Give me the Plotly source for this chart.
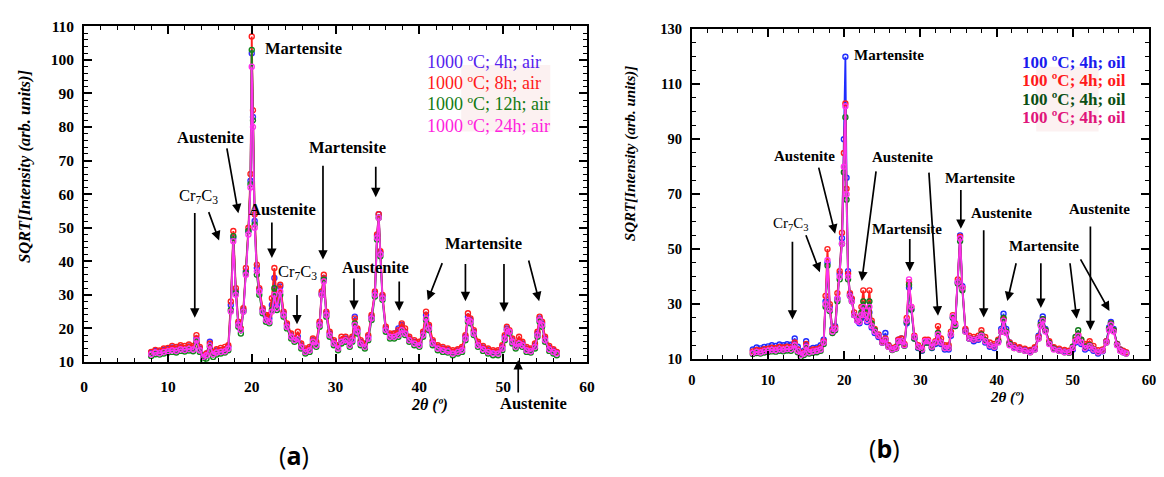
import plotly.graph_objects as go

W, H = 1164, 477

# ---------------- Panel (a): 1000 ºC, air ----------------
xa = [8.0, 8.5, 9.0, 9.5, 10.0, 10.5, 11.0, 11.5, 12.0, 12.5,
      13.0, 13.4, 13.8, 14.2, 14.6, 15.0, 15.4, 15.8, 16.3, 16.8,
      17.2, 17.5, 17.8, 18.1, 18.4, 18.7, 19.0, 19.3, 19.6, 19.85,
      20.0, 20.15, 20.35, 20.6, 20.9, 21.3, 21.7, 22.1, 22.4, 22.7,
      23.0, 23.4, 23.8, 24.2, 24.7, 25.1, 25.5, 25.9, 26.4, 26.9,
      27.3, 27.7, 28.1, 28.35, 28.6, 28.9, 29.3, 29.8, 30.3, 30.7,
      31.2, 31.7, 32.0, 32.3, 32.6, 33.0, 33.5, 33.9, 34.3, 34.7,
      34.95, 35.15, 35.35, 35.6, 36.0, 36.5, 37.0, 37.5, 37.9, 38.3,
      38.8, 39.4, 40.0, 40.45, 40.8, 41.15, 41.6, 42.2, 42.8, 43.4,
      44.0, 44.6, 45.1, 45.5, 45.8, 46.1, 46.5, 47.0, 47.6, 48.2,
      48.8, 49.4, 49.9, 50.2, 50.45, 50.75, 51.1, 51.5, 51.9, 52.3,
      52.8, 53.3, 53.8, 54.1, 54.35, 54.65, 55.0, 55.5, 56.0, 56.4]

a_4h = [12.8, 13.3, 13.1, 13.6, 13.9, 14.3, 14.0, 14.4, 14.2, 14.6,
        14.2, 17.0, 14.0, 11.5, 12.5, 16.0, 12.8, 13.4, 13.6, 13.8,
        14.5, 27.0, 47.0, 31.0, 21.5, 19.5, 25.5, 37.0, 49.0, 64.0,
        102.0, 83.0, 52.0, 38.0, 31.5, 25.5, 23.5, 23.0, 27.0, 35.0,
        27.0, 32.5, 24.5, 21.0, 18.0, 16.8, 17.5, 15.0, 13.5, 14.0,
        16.5, 15.5, 21.5, 30.5, 35.0, 24.5, 18.5, 16.0, 14.5, 16.5,
        17.0, 15.5, 17.0, 23.5, 19.5, 16.0, 15.0, 17.5, 23.5, 30.5,
        47.5, 54.0, 42.5, 29.5, 20.0, 18.0, 18.5, 20.0, 21.0, 19.0,
        17.0, 16.0, 15.5, 18.5, 24.0, 20.5, 16.0, 14.5, 14.0, 13.6,
        13.0, 13.4, 14.0, 17.5, 23.5, 22.5, 19.0, 15.5, 14.3, 13.5,
        13.0, 13.0, 14.5, 17.5, 20.0, 19.0, 16.5, 15.0, 16.0, 15.5,
        14.0, 13.6, 15.0, 18.5, 23.0, 21.5, 17.0, 14.3, 13.4, 12.8]

a_8h = [13.0, 13.6, 13.4, 14.0, 14.2, 14.8, 14.5, 15.0, 14.8, 15.2,
        14.8, 18.0, 14.5, 12.0, 12.5, 15.5, 13.0, 13.8, 14.2, 14.5,
        15.0, 28.0, 49.0, 32.0, 22.0, 20.0, 26.0, 38.0, 50.0, 66.0,
        107.0, 85.0, 54.0, 39.0, 32.0, 26.0, 24.0, 24.0, 29.0, 38.0,
        28.0, 33.0, 25.0, 21.5, 18.5, 17.0, 19.0, 15.5, 14.0, 14.5,
        17.0, 16.0, 22.0, 31.0, 36.0, 25.0, 19.0, 16.5, 15.0, 17.5,
        17.5, 16.0, 17.5, 23.0, 20.0, 16.5, 15.5, 18.0, 24.0, 31.0,
        48.0, 54.0, 43.0, 30.0, 20.5, 18.5, 18.5, 19.5, 21.5, 20.0,
        17.5, 16.5, 16.0, 19.0, 25.0, 21.0, 16.5, 15.0, 14.5, 14.0,
        13.5, 13.8, 14.5, 18.0, 24.5, 23.0, 19.5, 16.0, 14.8, 14.0,
        13.5, 13.5, 15.0, 18.0, 20.5, 19.5, 17.0, 15.5, 17.5, 16.0,
        14.5, 14.0, 15.5, 19.0, 23.5, 22.0, 17.5, 14.8, 13.8, 13.0]

a_12h = [11.8, 12.3, 12.2, 12.5, 12.8, 13.0, 12.8, 13.3, 13.1, 13.4,
         13.2, 16.0, 13.0, 10.5, 11.0, 14.5, 11.5, 12.2, 12.5, 12.8,
         13.5, 25.5, 47.5, 30.5, 20.5, 18.5, 25.0, 36.5, 49.0, 63.0,
         103.0, 82.0, 51.0, 36.0, 30.0, 24.5, 22.0, 21.5, 25.5, 32.0,
         25.5, 30.0, 23.5, 20.0, 17.0, 16.0, 16.5, 14.0, 12.5, 13.0,
         15.5, 14.5, 20.5, 30.0, 34.5, 23.5, 17.5, 15.0, 13.5, 15.5,
         16.0, 14.5, 16.0, 21.5, 18.5, 15.0, 14.0, 16.5, 22.5, 29.5,
         46.5, 53.0, 41.5, 28.5, 19.0, 17.0, 17.0, 17.5, 19.0, 18.0,
         16.0, 15.0, 14.5, 17.5, 22.5, 19.5, 15.0, 13.5, 13.0, 12.8,
         12.0, 12.5, 13.0, 16.5, 22.0, 21.5, 18.0, 14.5, 13.3, 12.5,
         12.0, 12.0, 13.5, 16.5, 19.5, 18.5, 15.5, 14.0, 15.0, 14.5,
         13.0, 12.8, 14.0, 17.5, 22.0, 20.5, 16.0, 13.3, 12.5, 12.0]

a_24h = [12.3, 12.8, 12.6, 13.0, 13.2, 13.5, 13.3, 13.8, 13.6, 13.9,
         13.7, 16.5, 13.5, 11.5, 12.0, 14.8, 12.3, 12.8, 13.0, 13.2,
         14.0, 25.0, 46.0, 30.0, 21.0, 19.5, 25.0, 36.0, 48.0, 62.0,
         98.0, 80.0, 50.0, 37.0, 31.0, 25.0, 22.5, 22.0, 25.0, 30.0,
         26.0, 31.0, 24.0, 20.5, 17.5, 16.5, 16.8, 14.5, 13.0, 13.5,
         16.0, 15.0, 21.0, 30.0, 34.0, 24.0, 18.0, 15.5, 14.0, 16.0,
         16.5, 15.0, 16.5, 21.0, 19.0, 15.5, 14.5, 17.0, 23.0, 30.0,
         47.0, 53.0, 42.0, 29.0, 19.5, 17.5, 17.5, 18.0, 19.5, 18.5,
         16.5, 15.5, 15.0, 18.0, 23.0, 20.0, 15.5, 14.0, 13.5, 13.2,
         12.5, 13.0, 13.5, 17.0, 22.5, 22.0, 18.5, 15.0, 13.8, 13.0,
         12.6, 12.5, 14.0, 17.0, 19.5, 19.0, 16.0, 14.5, 15.5, 15.0,
         13.5, 13.2, 14.5, 18.0, 22.5, 21.0, 16.5, 13.8, 13.0, 12.5]

# ---------------- Panel (b): 100 ºC, oil ----------------
xb = [8.0, 8.5, 9.0, 9.5, 10.0, 10.5, 11.0, 11.5, 12.0, 12.5,
      13.0, 13.5, 13.9, 14.3, 14.7, 15.0, 15.4, 15.9, 16.4, 16.9,
      17.3, 17.55, 17.8, 18.1, 18.45, 18.8, 19.1, 19.4, 19.7, 19.95,
      20.15, 20.3, 20.5, 20.75, 21.0, 21.3, 21.7, 22.0, 22.25, 22.5,
      22.75, 23.0, 23.3, 23.6, 24.0, 24.5, 25.0, 25.4, 25.8, 26.3,
      26.8, 27.1, 27.5, 27.9, 28.2, 28.5, 28.8, 29.2, 29.7, 30.2,
      30.6, 31.0, 31.5, 31.95, 32.3, 32.7, 33.2, 33.7, 34.0, 34.25,
      34.55, 34.9, 35.2, 35.5, 35.9, 36.4, 37.0, 37.6, 38.0, 38.5,
      39.1, 39.7, 40.2, 40.6, 40.9, 41.25, 41.7, 42.3, 43.0, 43.7,
      44.4, 45.0, 45.5, 45.8, 46.05, 46.4, 46.9, 47.5, 48.2, 48.9,
      49.5, 50.0, 50.35, 50.7, 51.1, 51.6, 52.2, 52.7, 53.3, 53.9,
      54.4, 54.75, 55.0, 55.35, 55.8, 56.2, 56.6, 57.0]

b_s1 = [13.5, 14.2, 13.9, 14.4, 14.6, 15.0, 14.8, 15.3, 15.0, 15.4,
        15.2, 17.5, 14.5, 12.0, 13.0, 16.5, 13.5, 14.0, 14.2, 15.0,
        17.0, 31.0, 45.0, 29.0, 21.0, 22.0, 32.0, 41.0, 54.0, 90.0,
        120.0, 76.0, 42.0, 33.5, 31.5, 26.0, 24.0, 23.0, 25.0, 28.0,
        25.0, 23.5, 27.0, 21.5, 19.5, 18.0, 16.0, 19.5, 15.0, 13.8,
        14.0, 17.0, 17.5, 15.0, 23.0, 36.0, 28.0, 17.5, 14.0, 13.0,
        16.0, 16.0, 14.0, 15.5, 18.5, 15.5, 13.5, 13.5, 18.5, 25.0,
        22.0, 38.0, 55.0, 36.5, 20.5, 17.5, 16.5, 17.0, 18.0, 16.0,
        14.5, 14.0, 16.5, 21.0, 26.5, 21.0, 16.0, 14.5, 14.0, 13.5,
        13.0, 14.0, 18.5, 23.5, 25.5, 21.0, 16.0, 14.0, 13.2, 12.8,
        12.5, 13.5, 16.0, 18.0, 15.5, 13.5, 14.0, 13.0, 12.0, 12.8,
        16.5, 21.5, 23.5, 21.0, 15.5, 13.5, 12.8, 12.2]

b_s2 = [12.8, 13.3, 13.1, 13.6, 13.8, 14.1, 14.0, 14.4, 14.2, 14.5,
        14.3, 16.0, 13.5, 11.8, 12.5, 15.5, 13.0, 13.5, 13.6, 14.2,
        16.5, 33.0, 50.0, 30.0, 20.5, 21.5, 34.0, 42.0, 56.0, 85.0,
        103.0, 72.0, 41.0, 34.0, 32.0, 27.0, 25.0, 25.0, 29.0, 35.0,
        28.0, 26.0, 35.0, 24.0, 21.0, 19.0, 16.5, 17.5, 15.0, 14.0,
        14.5, 17.0, 17.5, 15.5, 25.0, 38.0, 29.0, 18.5, 15.0, 14.0,
        17.0, 17.0, 15.0, 16.5, 22.0, 17.5, 15.0, 15.0, 20.0, 26.0,
        23.0, 39.0, 54.5, 36.0, 21.0, 18.5, 18.0, 18.5, 20.5, 18.0,
        16.0, 15.5, 17.0, 20.0, 24.5, 20.0, 16.0, 15.0, 14.3, 13.8,
        13.3, 14.3, 18.0, 22.5, 24.5, 20.5, 16.5, 14.3, 13.8, 13.3,
        13.0, 14.5, 17.0, 19.0, 17.0, 15.5, 16.5, 14.8, 13.2, 13.5,
        16.5, 21.0, 23.0, 20.5, 15.5, 13.5, 13.0, 12.5]

b_s3 = [11.8, 12.2, 12.0, 12.4, 12.6, 12.8, 12.7, 13.0, 12.8, 13.1,
        13.0, 14.5, 12.5, 10.8, 11.5, 14.0, 12.0, 12.3, 12.5, 13.0,
        15.5, 29.0, 44.0, 27.5, 19.5, 20.5, 31.0, 39.0, 52.0, 78.0,
        98.0, 68.0, 39.0, 33.0, 31.0, 26.0, 24.5, 24.0, 27.0, 31.0,
        27.0, 25.0, 31.0, 23.0, 20.5, 18.5, 16.0, 17.0, 14.5, 13.3,
        13.8, 16.0, 16.5, 14.8, 23.5, 37.0, 28.0, 17.5, 14.2, 13.2,
        16.0, 16.0, 14.2, 15.8, 19.5, 16.0, 14.0, 14.0, 19.0, 25.0,
        22.0, 37.5, 53.0, 35.0, 20.0, 17.5, 17.0, 17.5, 19.0, 16.8,
        15.0, 14.5, 16.5, 20.0, 25.0, 20.0, 15.5, 14.0, 13.5, 13.0,
        12.5, 13.5, 17.5, 22.5, 24.5, 20.5, 15.8, 13.8, 13.0, 12.5,
        12.3, 14.5, 18.0, 20.5, 17.0, 14.5, 15.0, 13.6, 12.5, 13.0,
        16.0, 21.0, 23.0, 20.5, 15.3, 13.2, 12.5, 12.0]

b_s4 = [12.2, 12.6, 12.4, 12.9, 13.0, 13.3, 13.2, 13.6, 13.4, 13.7,
        13.6, 15.0, 13.0, 11.5, 12.0, 14.5, 12.5, 12.8, 13.0, 13.5,
        16.0, 30.0, 46.0, 28.0, 20.0, 21.0, 32.0, 40.0, 52.0, 80.0,
        102.0, 70.0, 40.0, 33.0, 31.0, 26.0, 24.0, 23.5, 26.0, 29.0,
        26.0, 24.0, 29.0, 22.0, 20.0, 18.5, 16.0, 17.0, 14.5, 13.5,
        14.0, 16.5, 16.5, 15.0, 24.0, 39.0, 29.0, 18.0, 14.5, 13.5,
        16.5, 16.5, 14.5, 16.0, 19.0, 16.0, 14.0, 14.0, 19.0, 25.5,
        22.5, 38.0, 54.0, 36.0, 20.0, 17.5, 17.0, 17.5, 18.5, 16.5,
        15.0, 14.5, 16.0, 20.0, 24.0, 19.5, 15.0, 14.0, 13.5, 13.0,
        12.5, 13.5, 17.5, 22.0, 24.0, 20.0, 15.5, 13.5, 13.0, 12.5,
        12.5, 14.0, 16.5, 18.5, 16.0, 14.0, 14.8, 13.5, 12.5, 13.0,
        16.0, 20.5, 22.5, 20.0, 15.0, 13.0, 12.5, 12.0]

labels_a = ["1000 ºC; 4h; air", "1000 ºC; 8h; air", "1000 ºC; 12h; air", "1000 ºC; 24h; air"]
labels_b = ["100 ºC; 4h; oil", "100 ºC; 4h; oil", "100 ºC; 4h; oil", "100 ºC; 4h; oil"]

colors_a = ["#3a2cff", "#ff1f1f", "#12861a", "#ff30ee"]
colors_b = ["#1f2cff", "#ff1f1f", "#127a1a", "#ff30ee"]
label_colors_a = ["#5522ee", "#ff1a1a", "#137a13", "#ff22dd"]
label_colors_b = ["#1a1aee", "#ff1a1a", "#0b4f14", "#e0157a"]

fig = go.Figure()
for ys, c, name in zip([a_4h, a_8h, a_12h, a_24h], colors_a, labels_a):
    fig.add_trace(go.Scatter(x=xa, y=ys, mode="lines+markers", name=name,
                             line=dict(color=c, width=1.8),
                             marker=dict(symbol="circle-open", size=5, color=c, line=dict(width=1.4, color=c)),
                             xaxis="x", yaxis="y", showlegend=False))
for ys, c, name in zip([b_s1, b_s2, b_s3, b_s4], colors_b, labels_b):
    fig.add_trace(go.Scatter(x=xb, y=ys, mode="lines+markers", name=name,
                             line=dict(color=c, width=1.8),
                             marker=dict(symbol="circle-open", size=5, color=c, line=dict(width=1.4, color=c)),
                             xaxis="x2", yaxis="y2", showlegend=False))


def px_x(p):
    return p / W


def px_y(p):
    return 1 - p / H


SERIF = "Liberation Serif"
common = dict(showline=True, linewidth=2, linecolor="black", mirror="ticks",
              ticks="inside", tickwidth=1.8, tickcolor="black",
              showgrid=False, zeroline=False)


def minor(d):
    return dict(dtick=d, ticklen=4, ticks="inside", tickwidth=1.4, tickcolor="black", showgrid=False)


fig.update_layout(
    width=W, height=H, margin=dict(l=0, r=0, t=0, b=0),
    paper_bgcolor="white", plot_bgcolor="white", showlegend=False,
    xaxis=dict(domain=[px_x(81), px_x(589)], range=[0, 60], tick0=0, dtick=10, ticklen=8,
               minor=minor(2), anchor="y", ticklabelstandoff=9,
               tickfont=dict(family=SERIF, size=15.5, color="black", weight="bold"), **common),
    yaxis=dict(domain=[px_y(366), px_y(18)], range=[10, 110], tick0=10, dtick=10, ticklen=8,
               minor=minor(2), anchor="x", ticklabelstandoff=5,
               tickfont=dict(family=SERIF, size=15.5, color="black", weight="bold"), **common),
    xaxis2=dict(domain=[px_x(695), px_x(1157)], range=[0, 60], tick0=0, dtick=10, ticklen=8,
                minor=minor(2), anchor="y2", ticklabelstandoff=7,
                tickfont=dict(family=SERIF, size=14.5, color="black", weight="bold"), **common),
    yaxis2=dict(domain=[px_y(363), px_y(21)], range=[10, 130], tick0=10, dtick=20, ticklen=8,
                minor=minor(5), anchor="x2", ticklabelstandoff=5,
                tickfont=dict(family=SERIF, size=14.5, color="black", weight="bold"), **common),
)

# faint pink patches behind the legend texts
fig.add_shape(type="rect", xref="paper", yref="paper", x0=px_x(462), x1=px_x(552), y0=px_y(127), y1=px_y(58),
              fillcolor="#fcf1f1", line=dict(width=0), layer="below")
fig.add_shape(type="rect", xref="paper", yref="paper", x0=px_x(1043), x1=px_x(1106), y0=px_y(127), y1=px_y(60),
              fillcolor="#fcf1f1", line=dict(width=0), layer="below")

ann = []


def text(t, x, y, panel, size, bold=True, xanchor="center"):
    ann.append(dict(text=t, x=x, y=y, xref="x" if panel == "a" else "x2", yref="y" if panel == "a" else "y2",
                    showarrow=False, xanchor=xanchor, yanchor="middle",
                    font=dict(family=SERIF, size=size, color="black", weight="bold" if bold else "normal")))


def arrow(x_head, y_head, x_tail, y_tail, panel):
    xr = "x" if panel == "a" else "x2"
    yr = "y" if panel == "a" else "y2"
    ann.append(dict(text="", x=x_head, y=y_head, ax=x_tail, ay=y_tail, xref=xr, yref=yr, axref=xr, ayref=yr,
                    showarrow=True, arrowhead=2, arrowsize=1.1, arrowwidth=1.7, arrowcolor="black",
                    standoff=0, startstandoff=0))


CR = "Cr<sub>7</sub>C<sub>3</sub>"

# panel (a) labels and arrows
text("Martensite", 21.4, 103.4, "a", 16.5, xanchor="left")
text("Austenite", 15.1, 77.0, "a", 16.5)
text(CR, 13.7, 59.4, "a", 16.5, bold=False)
text("Austenite", 23.7, 55.4, "a", 16.5)
text("Martensite", 31.4, 73.8, "a", 16.5)
text("Martensite", 47.6, 45.3, "a", 16.5)
text(CR, 25.5, 36.7, "a", 16.5, bold=False)
text("Austenite", 34.8, 38.2, "a", 16.5)
arrow(18.4, 54.3, 17.0, 74.1, "a")
arrow(13.2, 23.2, 13.2, 54.8, "a")
arrow(16.1, 46.2, 14.8, 55.1, "a")
arrow(22.4, 41.0, 22.4, 52.0, "a")
arrow(28.5, 40.5, 28.5, 68.9, "a")
arrow(34.8, 59.1, 34.8, 68.6, "a")
arrow(25.4, 21.2, 25.4, 30.4, "a")
arrow(32.2, 25.5, 32.2, 35.3, "a")
arrow(37.6, 25.2, 37.6, 34.4, "a")
arrow(41.0, 28.4, 42.8, 39.9, "a")
arrow(45.5, 28.1, 45.5, 39.6, "a")
arrow(50.1, 24.9, 50.1, 39.6, "a")
arrow(54.3, 28.1, 53.0, 40.7, "a")
# bottom Austenite (below the axis) in paper units vertically
ann.append(dict(text="", x=51.8, y=px_y(364), xref="x", yref="paper", ax=0, ay=34,
                showarrow=True, arrowhead=2, arrowsize=1.1, arrowwidth=1.7, arrowcolor="black", standoff=0))
ann.append(dict(text="Austenite", x=53.6, y=px_y(409), xref="x", yref="paper", showarrow=False,
                xanchor="center", yanchor="middle",
                font=dict(family=SERIF, size=16.5, color="black", weight="bold")))

# panel (b) labels and arrows
text("Martensite", 21.0, 120.5, "b", 15, xanchor="left")
text("Austenite", 14.8, 84.0, "b", 15)
text("Austenite", 27.7, 83.7, "b", 15)
text("Martensite", 37.8, 76.0, "b", 15)
text("Austenite", 40.6, 63.0, "b", 15)
text("Austenite", 53.5, 64.7, "b", 15)
text(CR, 13.0, 59.1, "b", 15, bold=False)
text("Martensite", 28.3, 57.4, "b", 15)
text("Martensite", 46.2, 51.1, "b", 15)
arrow(13.2, 24.4, 13.2, 53.2, "b")
arrow(16.8, 41.6, 14.9, 55.6, "b")
arrow(18.8, 55.6, 16.6, 80.2, "b")
arrow(22.3, 38.4, 24.2, 78.8, "b")
arrow(32.3, 25.8, 31.1, 78.4, "b")
arrow(35.3, 57.4, 35.3, 72.1, "b")
arrow(28.6, 41.9, 28.6, 54.2, "b")
arrow(38.3, 25.1, 38.3, 57.4, "b")
arrow(52.3, 20.5, 52.3, 58.8, "b")
arrow(41.4, 31.1, 42.6, 45.4, "b")
arrow(45.8, 28.6, 45.8, 45.4, "b")
arrow(50.5, 24.7, 49.6, 45.4, "b")
arrow(54.8, 27.5, 50.9, 46.8, "b")

# legend-like coloured texts
for i, (lab, col) in enumerate(zip(labels_a, label_colors_a)):
    ann.append(dict(text=lab, x=px_x(425), y=px_y(55 + 22 * i), xref="paper", yref="paper", showarrow=False,
                    xanchor="left", yanchor="middle", font=dict(family=SERIF, size=18, color=col)))
for i, (lab, col) in enumerate(zip(labels_b, label_colors_b)):
    ann.append(dict(text=lab, x=px_x(1027), y=px_y(55 + 19.3 * i), xref="paper", yref="paper", showarrow=False,
                    xanchor="left", yanchor="middle",
                    font=dict(family=SERIF, size=17, color=col, weight="bold")))

# axis titles
ann.append(dict(text="<i>SQRT[Intensity (arb. units)]</i>", x=px_x(20), y=px_y(163), xref="paper", yref="paper",
                showarrow=False, textangle=-90, xanchor="center", yanchor="middle",
                font=dict(family=SERIF, size=16.5, color="black", weight="bold")))
ann.append(dict(text="<i>SQRT[Intensity (arb. units)]</i>", x=px_x(633), y=px_y(150), xref="paper", yref="paper",
                showarrow=False, textangle=-90, xanchor="center", yanchor="middle",
                font=dict(family=SERIF, size=15, color="black", weight="bold")))
ann.append(dict(text="<i>2θ (º)</i>", x=px_x(430), y=px_y(411), xref="paper", yref="paper", showarrow=False,
                xanchor="center", yanchor="middle", font=dict(family=SERIF, size=16, color="black", weight="bold")))
ann.append(dict(text="<i>2θ (º)</i>", x=px_x(1014), y=px_y(403), xref="paper", yref="paper", showarrow=False,
                xanchor="center", yanchor="middle", font=dict(family=SERIF, size=15, color="black", weight="bold")))

# sub-figure captions
ann.append(dict(text="(<b>a</b>)", x=px_x(293), y=px_y(463), xref="paper", yref="paper", showarrow=False,
                xanchor="center", yanchor="middle", font=dict(family="Open Sans", size=25, color="black")))
ann.append(dict(text="(<b>b</b>)", x=px_x(890), y=px_y(455), xref="paper", yref="paper", showarrow=False,
                xanchor="center", yanchor="middle", font=dict(family="Open Sans", size=25, color="black")))

fig.update_layout(annotations=ann)
fig.write_html("out.html")
